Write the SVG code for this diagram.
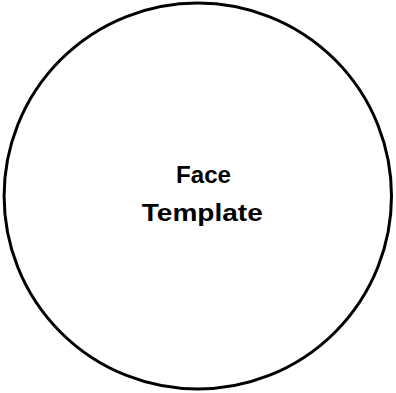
<svg xmlns="http://www.w3.org/2000/svg" width="396" height="393" viewBox="0 0 396 393">
<style>
.node{fill:#ffffff;stroke:#000000;stroke-width:3}
.lbl{font-family:"Liberation Sans",Arial,sans-serif;font-weight:bold;font-size:24px;fill:#000000;text-anchor:middle}
</style>
<rect width="396" height="393" fill="#ffffff"/>
<g id="connectors"></g>
<g id="face-template">
<ellipse class="node" cx="197.8" cy="196" rx="193.7" ry="193"/>
<text class="lbl" x="203.5" y="183" textLength="55" lengthAdjust="spacingAndGlyphs">Face</text>
<text class="lbl" x="202.3" y="221" textLength="121" lengthAdjust="spacingAndGlyphs">Template</text>
</g>
</svg>
